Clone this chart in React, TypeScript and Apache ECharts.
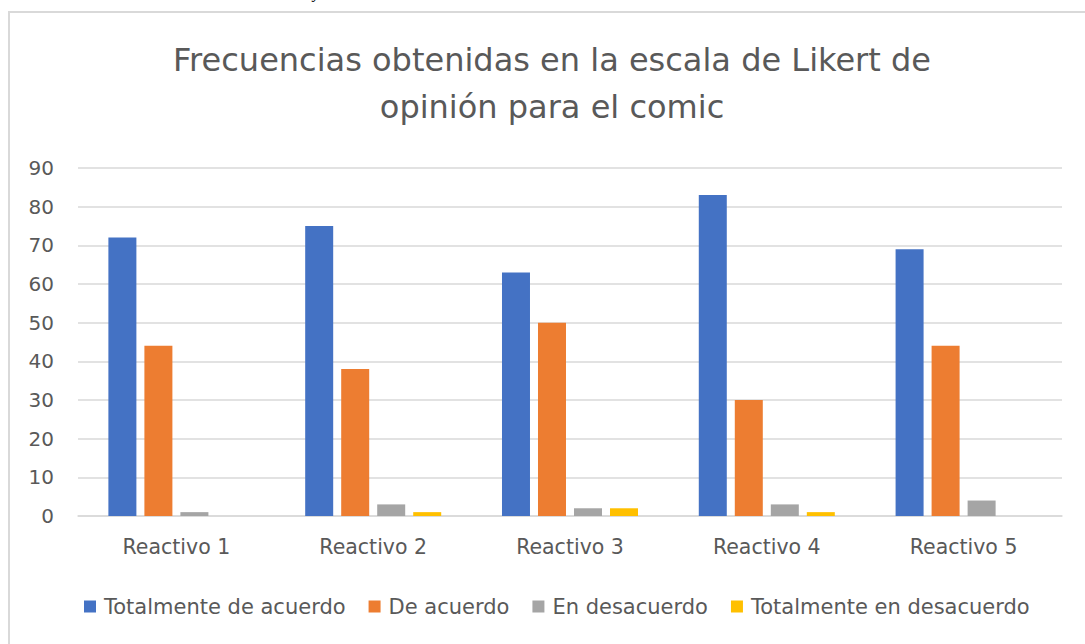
import React, { useEffect, useRef } from "react";
import * as echarts from "echarts";

const categories = ["Reactivo 1", "Reactivo 2", "Reactivo 3", "Reactivo 4", "Reactivo 5"];
const seriesNames = ["Totalmente de acuerdo", "De acuerdo", "En desacuerdo", "Totalmente en desacuerdo"];
const totalmenteDeAcuerdo = [72, 75, 63, 83, 69];
const deAcuerdo = [44, 38, 50, 30, 44];
const enDesacuerdo = [1, 3, 2, 3, 4];
const totalmenteEnDesacuerdo = [0, 1, 2, 1, 0];
const colors = ["#4472C4", "#ED7D31", "#A5A5A5", "#FFC000"];
const titleLines = ["Frecuencias obtenidas en la escala de Likert de", "opinión para el comic"];

const FONT = "DejaVu Sans";
const TXT = "#595959";

export default function App() {
  const ref = useRef<HTMLDivElement>(null);
  useEffect(() => {
    if (!ref.current) return;
    const chart = echarts.init(ref.current, null, { renderer: "svg" });
    const values = [totalmenteDeAcuerdo, deAcuerdo, enDesacuerdo, totalmenteEnDesacuerdo];
    chart.setOption({
      animation: false,
      backgroundColor: "#ffffff",
      textStyle: { fontFamily: FONT },
      graphic: [
        {
          type: "rect",
          shape: { x: 9, y: 12, width: 1100, height: 700 },
          style: { fill: "none", stroke: "#d9d9d9", lineWidth: 2 },
          silent: true,
        },
        {
          type: "text",
          x: 313,
          y: -16,
          style: { text: "y", fontSize: 16, fontStyle: "italic", fill: "#000", fontFamily: "Liberation Serif" },
        },
        {
          type: "text",
          x: 552,
          y: 44,
          style: { text: titleLines[0], fontSize: 32, fill: TXT, fontFamily: FONT, textAlign: "center" },
        },
        {
          type: "text",
          x: 552,
          y: 91,
          style: { text: titleLines[1], fontSize: 32, fill: TXT, fontFamily: FONT, textAlign: "center" },
        },
      ],
      legend: {
        data: seriesNames,
        left: 79,
        top: 591,
        icon: "rect",
        itemWidth: 12,
        itemHeight: 12,
        itemGap: 23,
        textStyle: { color: TXT, fontSize: 21, fontFamily: FONT, padding: [0, 0, 0, 3] },
      },
      grid: { left: 78, right: 23, top: 168, height: 348 },
      xAxis: {
        type: "category",
        data: categories,
        axisLine: { lineStyle: { color: "#d9d9d9", width: 1.5 } },
        axisTick: { show: false },
        axisLabel: { color: TXT, fontSize: 20.5, fontFamily: FONT, margin: 20 },
      },
      yAxis: {
        type: "value",
        min: 0,
        max: 90,
        interval: 10,
        axisLine: { show: false },
        axisTick: { show: false },
        splitLine: { lineStyle: { color: "#d9d9d9", width: 1.5 } },
        axisLabel: { color: TXT, fontSize: 20, fontFamily: FONT, margin: 24 },
      },
      series: seriesNames.map((name, i) => ({
        name,
        type: "bar",
        data: values[i],
        barWidth: 28,
        barGap: "28.6%",
        itemStyle: { color: colors[i] },
      })),
    });
    return () => chart.dispose();
  }, []);
  return <div ref={ref} style={{ position: "fixed", left: 0, top: 0, width: 1085, height: 644 }} />;
}
